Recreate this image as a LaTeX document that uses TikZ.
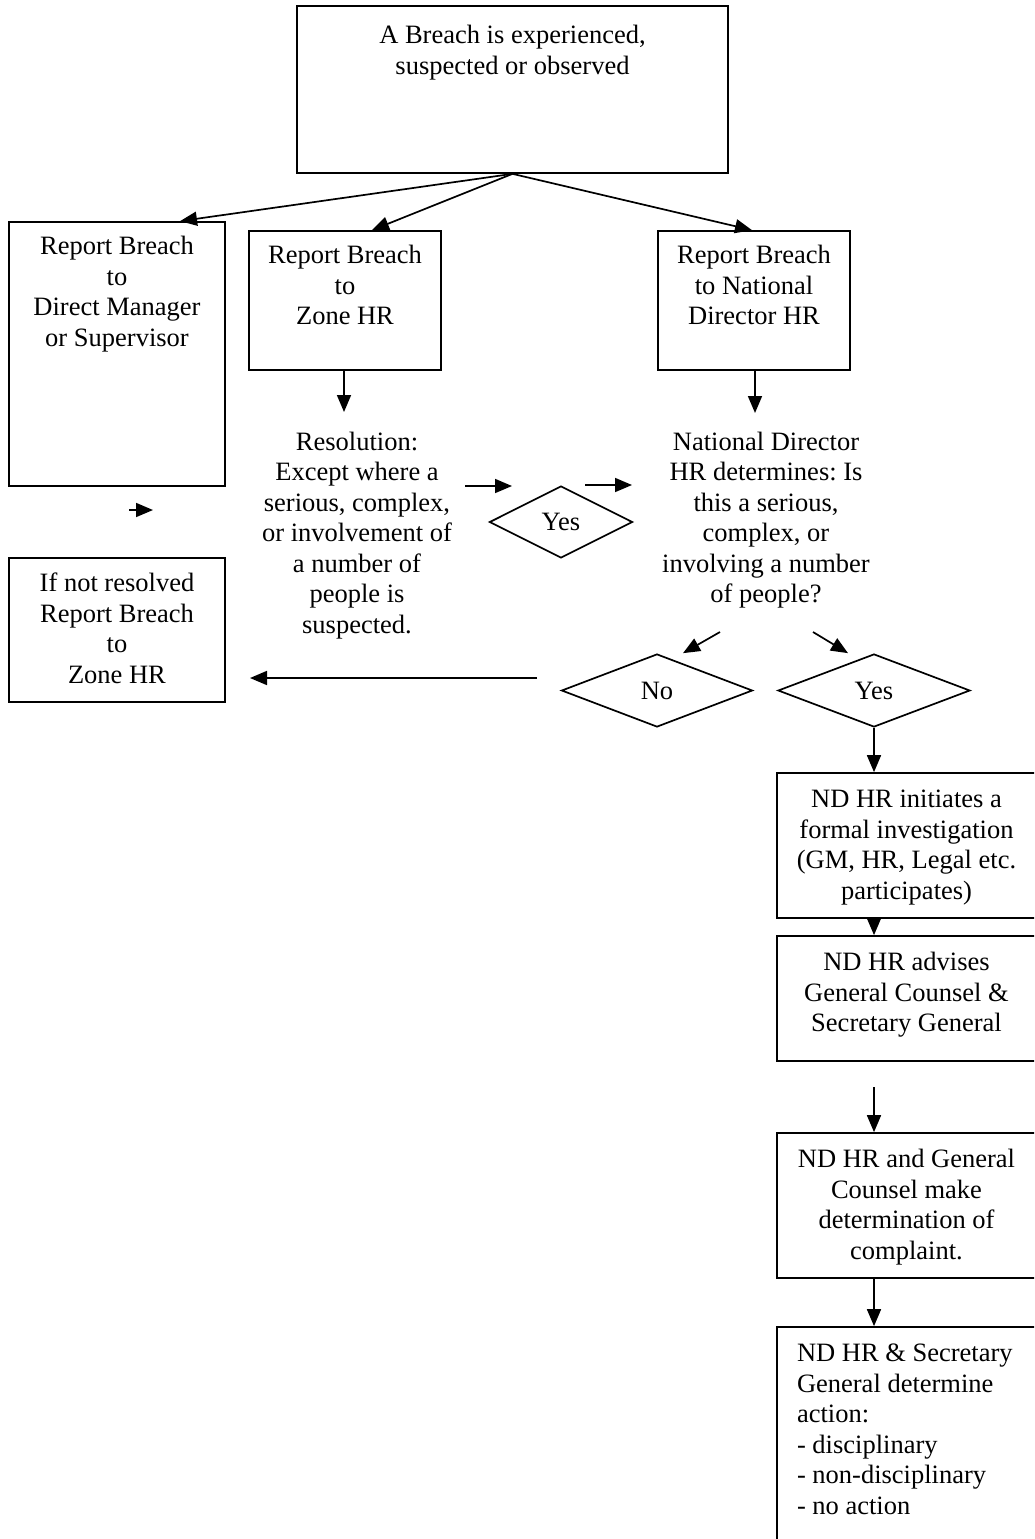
\documentclass[tikz,border=0pt]{standalone}
\usepackage{fontspec}
\setmainfont{Liberation Serif}
\frenchspacing
\usetikzlibrary{arrows.meta,shapes.geometric}
\newcommand{\tbox}[4]{\parbox[c][#2][t]{#1}{\vspace*{#3}\centering\strut #4\par}}
\newcommand{\lbox}[4]{\parbox[c][#2][t]{#1}{\vspace*{#3}\raggedright\leftskip=20pt\strut #4\par}}
\newcommand{\ftext}[2]{\parbox[t]{#1}{\centering\strut #2\par}}
\begin{document}
\begin{tikzpicture}[x=1pt,y=-1pt,
  every node/.style={font=\fontsize{26.5}{30.5}\selectfont},
  box/.style={draw, rectangle, line width=1.7pt, inner sep=0pt},
  dia/.style={draw, diamond, line width=1.7pt, inner sep=0pt},
  plain/.style={inner sep=0pt, anchor=north},
  arr/.style={line width=1.7pt, -{Triangle[length=17pt,width=14pt]}}]
\useasboundingbox (0,0) rectangle (1034,1539);
\clip (0,0) rectangle (1034,1539);
% boxes
\node[box] (top) at (512.5,89.5) {\tbox{431pt}{167pt}{16.6pt}{A Breach is experienced,\\suspected or observed}};
\node[box] (l1) at (117,354) {\tbox{216pt}{264pt}{11.6pt}{Report Breach\\to\\Direct Manager\\or Supervisor}};
\node[box] (zone) at (345,300.5) {\tbox{192pt}{139pt}{11.6pt}{Report Breach\\to\\Zone HR}};
\node[box] (nd) at (754,300.5) {\tbox{192pt}{139pt}{11.6pt}{Report Breach\\to National\\Director HR}};
\node[box] (l2) at (117,630) {\tbox{216pt}{144pt}{12.6pt}{If not resolved\\Report Breach\\to\\Zone HR}};
% free texts
\node[plain] (res) at (357,428.6) {\ftext{230pt}{Resolution:\\Except where a\\serious, complex,\\or involvement of\\a number of\\people is\\suspected.}};
\node[plain] (ndq) at (766,428.6) {\ftext{240pt}{National Director\\HR determines: Is\\this a serious,\\complex, or\\involving a number\\of people?}};
% diamonds
\node[dia, minimum width=143pt, minimum height=72pt] (yes1) at (561,522) {Yes};
\node[dia, minimum width=191pt, minimum height=73pt] (no) at (657,690.5) {No};
\node[dia, minimum width=192pt, minimum height=73pt] (yes2) at (874,690.5) {Yes};
% right column
\node[box] (ba) at (906.5,845.5) {\tbox{259pt}{145pt}{13.6pt}{ND HR initiates a\\formal investigation\\(GM, HR, Legal etc.\\participates)}};
\node[box] (bb) at (906.5,998.5) {\tbox{259pt}{125pt}{13.6pt}{ND HR advises\\General Counsel \&\\Secretary General}};
\node[box] (bc) at (906.5,1205.5) {\tbox{259pt}{145pt}{13.6pt}{ND HR and General\\Counsel make\\determination of\\complaint.}};
\node[box] (bd) at (906.5,1443.5) {\lbox{259pt}{233pt}{13.6pt}{ND HR \& Secretary\\General determine\\action:\\- disciplinary\\- non-disciplinary\\- no action}};
% free coordinates
\coordinate (colx) at (874,0);
\coordinate (zoneEnd) at (344,412);
\coordinate (ndEnd) at (755,413);
\coordinate (a1s) at (465,486);
\coordinate (a1e) at (512,486);
\coordinate (a2s) at (585,485);
\coordinate (a2e) at (632,485);
\coordinate (q1s) at (720,632);
\coordinate (q2s) at (813,632);
\coordinate (noS) at (537,678);
\coordinate (noE) at (250,678);
\coordinate (smS) at (129,510);
\coordinate (smE) at (153,510);
\coordinate (bcS) at (874,1087);
% connectors
\draw[arr] (top.south) -- ([xshift=63pt]l1.north);
\draw[arr] (top.south) -- ([xshift=27pt]zone.north);
\draw[arr] (top.south) -- ([xshift=-2pt]nd.north);
\draw[arr] (zone.south -| zoneEnd) -- (zoneEnd);
\draw[arr] (nd.south -| ndEnd) -- (ndEnd);
\draw[arr] (a1s) -- (a1e);
\draw[arr] (a2s) -- (a2e);
\draw[arr] (q1s) -- ([xshift=26pt]no.north);
\draw[arr] (q2s) -- ([xshift=-26pt]yes2.north);
\draw[arr] (noS) -- (noE);
\draw[arr] (smS) -- (smE);
\draw[arr] (yes2.south) -- (ba.north -| colx);
\draw[arr] (ba.south -| colx) -- (bb.north -| colx);
\draw[arr] (bcS) -- (bc.north -| colx);
\draw[arr] (bc.south -| colx) -- (bd.north -| colx);
\end{tikzpicture}
\end{document}
